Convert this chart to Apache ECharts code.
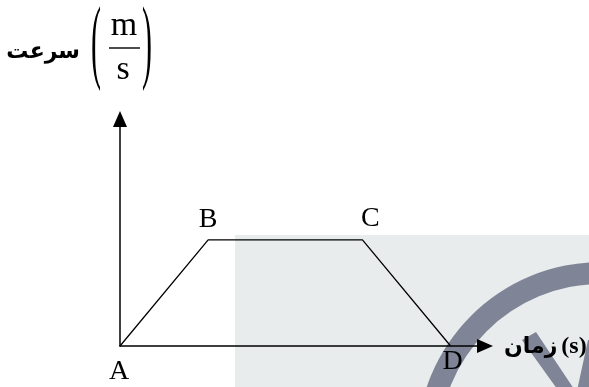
<!DOCTYPE html>
<html>
<head>
<meta charset="utf-8">
<script src="https://cdn.jsdelivr.net/npm/echarts@6/dist/echarts.min.js"></script>
<style>
  html, body { margin: 0; padding: 0; background: #fff; }
  #chart { width: 589px; height: 387px; }
</style>
</head>
<body>
<div id="chart"></div>
<script>
// points of the trapezoid v-t graph
const pointNames = ['A', 'B', 'C', 'D'];
const times = [0, 2, 5.5, 7.5];
const speeds = [0, 3, 3, 0];

// axis titles
const xWord = 'زمان';
const xUnit = '(s)';
const yName = 'سرعت';
const yUnitTop = 'm';
const yUnitBottom = 's';

// label offsets for each point (pixels, from the point)
const labelOffsets = [[-1, 26], [0, -20], [8, -21], [2, 16]];

const chart = echarts.init(document.getElementById('chart'));

const serif = "'Liberation Serif', 'DejaVu Serif', serif";
const markGrey = '#7f8597';

const option = {
  animation: false,
  backgroundColor: '#ffffff',
  grid: { left: 120, right: 104, top: 119, bottom: 41 },
  xAxis: {
    type: 'value',
    min: 0,
    max: 8.28,
    axisLine: {
      lineStyle: { color: '#000', width: 1.5 },
      symbol: ['none', 'triangle'],
      symbolSize: [14, 16]
    },
    axisTick: { show: false },
    axisLabel: { show: false },
    splitLine: { show: false }
  },
  yAxis: {
    type: 'value',
    min: 0,
    max: 6.42,
    axisLine: {
      show: true,
      lineStyle: { color: '#000', width: 1.5 },
      symbol: ['none', 'triangle'],
      symbolSize: [14, 16]
    },
    axisTick: { show: false },
    axisLabel: { show: false },
    splitLine: { show: false }
  },
  graphic: [
    // grey background of the scanned page + watermark
    { type: 'rect', z: -100, shape: { x: 235, y: 235, width: 400, height: 200 }, style: { fill: '#e9ecec' } },
    { type: 'ring', z: -99, shape: { cx: 601, cy: 446, r: 184, r0: 162 }, style: { fill: markGrey } },
    { type: 'polygon', z: -99, shape: { points: [[522, 340], [536, 332], [612, 446], [598, 446]] }, style: { fill: markGrey } },
    { type: 'polygon', z: -99, shape: { points: [[588, 340], [608, 340], [585, 446], [565, 446]] }, style: { fill: markGrey } },
    // x axis title: زمان (s)
    {
      type: 'text', z: 100, x: 504, y: 347,
      style: {
        text: '{ar|' + xWord + '}{en|' + xUnit + '}',
        textAlign: 'left',
        textVerticalAlign: 'middle',
        fill: '#000',
        rich: {
          ar: { fontFamily: 'DejaVu Sans', fontWeight: 'bold', fontSize: 22, fill: '#000' },
          en: { fontFamily: 'Liberation Serif', fontWeight: 'bold', fontSize: 24, fill: '#000', padding: [0, 0, 0, 4] }
        }
      }
    },
    // y axis title: سرعت (m/s)
    {
      type: 'text', z: 100, x: 80, y: 52,
      style: { text: yName, fontFamily: 'DejaVu Sans', fontWeight: 'bold', fontSize: 22, fill: '#000', textAlign: 'right', textVerticalAlign: 'middle' }
    },
    {
      type: 'text', z: 100, x: 96, y: 47, scaleY: 3.1,
      style: { text: '(', fontFamily: serif, fontSize: 30, fill: '#000', textAlign: 'center', textVerticalAlign: 'middle' }
    },
    {
      type: 'text', z: 100, x: 147, y: 47, scaleY: 3.1,
      style: { text: ')', fontFamily: serif, fontSize: 30, fill: '#000', textAlign: 'center', textVerticalAlign: 'middle' }
    },
    {
      type: 'text', z: 100, x: 124, y: 26,
      style: { text: yUnitTop, fontFamily: serif, fontSize: 34, fill: '#000', textAlign: 'center', textVerticalAlign: 'middle' }
    },
    {
      type: 'line', z: 100, shape: { x1: 109, y1: 48, x2: 140, y2: 48 }, style: { stroke: '#000', lineWidth: 1.4 }
    },
    {
      type: 'text', z: 100, x: 123, y: 70,
      style: { text: yUnitBottom, fontFamily: serif, fontSize: 34, fill: '#000', textAlign: 'center', textVerticalAlign: 'middle' }
    }
  ],
  series: [
    {
      type: 'line',
      data: times.map((t, i) => ({
        value: [t, speeds[i]],
        name: pointNames[i],
        label: {
          show: true,
          position: 'inside',
          offset: labelOffsets[i],
          formatter: pointNames[i],
          fontFamily: serif,
          fontSize: 28,
          color: '#000'
        }
      })),
      symbol: 'circle',
      symbolSize: 0,
      lineStyle: { color: '#000', width: 1.3 },
      itemStyle: { color: '#000' },
      z: 5
    }
  ]
};

chart.setOption(option);
</script>
</body>
</html>
